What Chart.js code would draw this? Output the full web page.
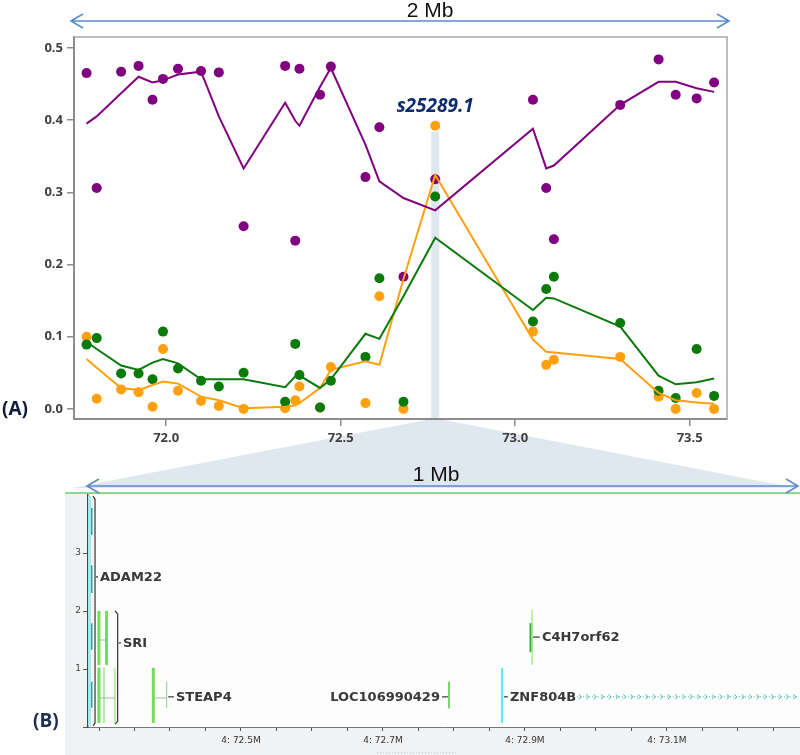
<!DOCTYPE html>
<html>
<head>
<meta charset="utf-8">
<script src="https://cdn.jsdelivr.net/npm/chart.js@4.4.1/dist/chart.umd.min.js"></script>
<style>
body{margin:0;background:#fff}
#wrap{position:relative;width:800px;height:755px}
#chartA{position:absolute;left:0;top:0}
#chartB{position:absolute;left:0;top:460px}
</style>
</head>
<body>
<div id="wrap">
<canvas id="chartA" width="800" height="493"></canvas>
<canvas id="chartB" width="800" height="295"></canvas>
</div>
<script>
// panel A : snp positions (Mb) and the three series
const snpPos=[71.772,71.801,71.871,71.921,71.961,71.991,72.034,72.100,72.151,72.222,72.341,72.370,72.382,72.441,72.472,72.571,72.611,72.680,72.771,73.051,73.089,73.111,73.301,73.411,73.460,73.520,73.570]

const purpleDots=[0.465,0.306,0.467,0.475,0.428,0.457,0.471,0.468,0.466,0.253,0.475,0.233,0.471,0.435,0.474,0.321,0.390,0.183,0.318,0.428,0.306,0.235,0.421,0.484,0.435,0.430,0.452]
const greenDots=[0.089,0.098,0.049,0.049,0.041,0.107,0.056,0.039,0.031,0.050,0.010,0.090,0.047,0.002,0.039,0.072,0.181,0.010,0.294,0.121,0.166,0.183,0.119,0.025,0.015,0.083,0.018]
const orangeDots=[0.100,0.014,0.027,0.023,0.003,0.083,0.025,0.011,0.004,0.000,0.001,0.012,0.031,0.002,0.058,0.008,0.156,0.000,0.392,0.107,0.061,0.068,0.072,0.017,0.000,0.022,0.000]

const purpleLine=[0.395,0.405,0.437,0.460,0.452,0.455,0.463,0.467,0.405,0.333,0.424,0.399,0.392,0.446,0.472,0.366,0.315,0.292,0.275,0.388,0.333,0.337,0.421,0.453,0.453,0.444,0.439]
const greenLine=[0.093,0.083,0.060,0.054,0.064,0.069,0.063,0.041,0.041,0.041,0.030,0.045,0.046,0.029,0.041,0.104,0.097,0.156,0.237,0.137,0.154,0.153,0.114,0.046,0.034,0.037,0.042]
const orangeLine=[0.069,0.057,0.029,0.026,0.033,0.038,0.035,0.017,0.012,0.001,0.003,0.005,0.008,0.029,0.054,0.066,0.061,0.180,0.324,0.096,0.079,0.078,0.069,0.022,0.012,0.009,0.007]

const xTicksA=[72.0,72.5,73.0,73.5]
const yTicksA=[0.0,0.1,0.2,0.3,0.4,0.5]

const hitName='s25289.1'
const hitPos=72.771
const hitTop=0.384
const hitLabelY=0.422

// panel B : gene features [x Mb, row from, row to]
const adamBack=[[72.2866,0.02,3.98]]
const adamExons=[[72.2886,0.33,0.78],[72.2886,1.33,1.79],[72.2886,2.31,2.79],[72.2886,3.31,3.78]]
const adamDots=[[72.2913,0.03,3.97]]
const sriBars=[[72.2999,1.07,2.0],[72.3106,1.07,2.0],[72.2999,0.07,1.02]]
const sriThin=[[72.3070,0.07,1.02],[72.3222,0.07,1.02]]
const steapBars=[[72.3765,0.07,1.02]]
const steapThin=[[72.3953,0.33,0.78]]
const locBars=[[72.7930,0.32,0.78]]
const znfBars=[[72.8676,0.07,1.02]]
const c4Thin=[[72.9099,1.07,2.02]]
const c4Bars=[[72.9085,1.29,1.79]]
// introns [x from, x to, row]
const sriIntrons=[[72.2999,72.3106,1.5],[72.2999,72.3222,0.5]]
const steapIntrons=[[72.3765,72.3953,0.5]]
const znfIntrons=[[72.9732,73.2845,0.52]]
// brackets [x hook, x line, row from, row to]
const adamBracket=[72.2915,72.2944,0.02,3.98]
const sriBracket=[72.3225,72.3263,0.05,2.0]

const geneNames=['ADAM22','SRI','STEAP4','LOC106990429','ZNF804B','C4H7orf62']
const geneLabelX=[72.3014,72.3338,72.4084,72.7803,72.8789,72.9239]
const geneLabelRow=[2.59,1.45,0.52,0.52,0.52,1.55]
const geneLeaderX=[72.2944,72.3263,72.3960,72.7930,72.8690,72.9100]
const geneAlign=['left','left','left','right','left','left']

const xTicksB=[72.3,72.35,72.4,72.45,72.5,72.55,72.6,72.65,72.7,72.75,72.8,72.85,72.9,72.95,73.0,73.05,73.1,73.15,73.2,73.25]
const xLabelsB=[72.5,72.7,72.9,73.1]
const yTicksB=[0,1,2,3]


function pts(vals){
  return snpPos.map((x,i)=>({x:x,y:vals[i]}))
}

function vsegs(list){
  const out=[]
  list.forEach(f=>{
    out.push({x:f[0],y:f[1]},{x:f[0],y:f[2]},{x:f[0],y:null})
  })
  return out
}

function hsegs(list){
  const out=[]
  list.forEach(f=>{
    out.push({x:f[0],y:f[2]},{x:f[1],y:f[2]},{x:f[1],y:null})
  })
  return out
}

function bracket(b){
  return [{x:b[0],y:b[3]},{x:b[1],y:b[3]-0.05},{x:b[1],y:b[2]+0.05},{x:b[0],y:b[2]}]
}

function drawArrow(ctx,x1,x2,yy){
  ctx.beginPath()
  ctx.moveTo(x1,yy);ctx.lineTo(x2,yy)
  ctx.moveTo(x1+12,yy-7);ctx.lineTo(x1,yy);ctx.lineTo(x1+12,yy+7)
  ctx.moveTo(x2-12,yy-7);ctx.lineTo(x2,yy);ctx.lineTo(x2-12,yy+7)
  ctx.stroke()
}


// ---------- panel A ----------

const panelA={
  id:'panelA',
  beforeDraw(chart){
    const ctx=chart.ctx
    const a=chart.chartArea
    const cx=chart.scales.x.getPixelForValue(hitPos)
    const top=chart.scales.y.getPixelForValue(hitTop)
    ctx.save()
    ctx.fillStyle='#dfe7f1'
    // zoom wedge down to panel B
    ctx.beginPath()
    ctx.moveTo(cx-4,a.bottom)
    ctx.lineTo(cx+4,a.bottom)
    ctx.lineTo(796,488)
    ctx.lineTo(72,488)
    ctx.closePath()
    ctx.fill()
    ctx.fillRect(cx-4,top,8,a.bottom-top)
    ctx.restore()
  },
  afterDraw(chart){
    const ctx=chart.ctx
    const a=chart.chartArea
    const sx=chart.scales.x
    const sy=chart.scales.y
    ctx.save()
    ctx.strokeStyle='#a8a8a8'
    ctx.lineWidth=1.5
    ctx.beginPath()
    ctx.moveTo(a.left,a.top);ctx.lineTo(a.right,a.top);ctx.lineTo(a.right,a.bottom)
    ctx.stroke()

    ctx.strokeStyle='#5b8bd0'
    ctx.lineWidth=1.6
    drawArrow(ctx,a.left-3,a.right+2,21)
    ctx.fillStyle='#111'
    ctx.font='21px "Liberation Sans"'
    ctx.textAlign='center'
    ctx.fillText('2 Mb',430,17)

    ctx.fillStyle='#0d2b6e'
    ctx.font='italic bold 19px "Open Sans"'
    ctx.fillText(hitName,sx.getPixelForValue(hitPos),sy.getPixelForValue(hitLabelY)+8)

    ctx.fillStyle='#0d1b3a'
    ctx.font='bold 19px "Open Sans"'
    ctx.textAlign='left'
    ctx.fillText('(A)',2,415)
    ctx.restore()
  }
}

new Chart(document.getElementById('chartA'),{
  type:'scatter',
  data:{
    datasets:[
      {label:'purple line',data:pts(purpleLine),showLine:true,borderColor:'#800080',borderWidth:2,pointRadius:0,order:1},
      {label:'green line',data:pts(greenLine),showLine:true,borderColor:'#0a7a0a',borderWidth:2,pointRadius:0,order:1},
      {label:'orange line',data:pts(orangeLine),showLine:true,borderColor:'#ffa010',borderWidth:2,pointRadius:0,order:1},
      {label:'purple',data:pts(purpleDots),backgroundColor:'#800080',borderWidth:0,pointRadius:5,order:2},
      {label:'green',data:pts(greenDots),backgroundColor:'#0a7a0a',borderWidth:0,pointRadius:5,order:2},
      {label:'orange',data:pts(orangeDots),backgroundColor:'#ffa010',borderWidth:0,pointRadius:5,order:2}
    ]
  },
  options:{
    responsive:false,
    animation:false,
    devicePixelRatio:1,
    layout:{padding:{top:37,right:73,left:0,bottom:44}},
    plugins:{legend:{display:false},tooltip:{enabled:false}},
    scales:{
      x:{
        type:'linear',min:71.736,max:73.607,
        afterBuildTicks:(s)=>{s.ticks=xTicksA.map(v=>({value:v}))},
        afterFit:(s)=>{s.height=30},
        ticks:{callback:(v)=>Number(v).toFixed(1),color:'#404040',font:{family:'Open Sans',size:13,weight:'bold'},padding:4,maxRotation:0,autoSkip:false},
        grid:{drawOnChartArea:false,tickLength:7,color:'#8c8c8c',lineWidth:1.5},
        border:{color:'#8c8c8c',width:2}
      },
      y:{
        type:'linear',min:-0.014,max:0.515,
        afterBuildTicks:(s)=>{s.ticks=yTicksA.map(v=>({value:v}))},
        afterFit:(s)=>{s.width=74},
        ticks:{callback:(v)=>Number(v).toFixed(1),color:'#404040',font:{family:'Open Sans',size:13,weight:'bold'},padding:4},
        grid:{drawOnChartArea:false,tickLength:7,color:'#8c8c8c',lineWidth:1.5},
        border:{color:'#8c8c8c',width:2}
      }
    }
  },
  plugins:[panelA]
})


// ---------- panel B ----------

const panelB={
  id:'panelB',
  beforeDraw(chart){
    const ctx=chart.ctx
    const a=chart.chartArea
    ctx.save()
    ctx.fillStyle='#f1f2f4'
    ctx.fillRect(65,33,chart.width-65,chart.height-33)
    ctx.fillStyle='#fdfdfd'
    ctx.fillRect(a.left,a.top,a.right-a.left,a.bottom-a.top)
    ctx.strokeStyle='#8fd68f'
    ctx.lineWidth=2
    ctx.beginPath();ctx.moveTo(65,33);ctx.lineTo(chart.width,33);ctx.stroke()
    ctx.restore()
  },
  afterDraw(chart){
    const ctx=chart.ctx
    const a=chart.chartArea
    const sx=chart.scales.x
    const sy=chart.scales.y
    ctx.save()
    ctx.strokeStyle='#5b8bd0'
    ctx.lineWidth=1.6
    drawArrow(ctx,a.left-1,chart.width-2,26)
    ctx.fillStyle='#111'
    ctx.font='21px "Liberation Sans"'
    ctx.textAlign='center'
    ctx.fillText('1 Mb',436,21)

    // strand chevrons on ZNF804B
    ctx.strokeStyle='#3cb6b6'
    ctx.lineWidth=1
    znfIntrons.forEach(f=>{
      const y=sy.getPixelForValue(f[2])
      for(let px=sx.getPixelForValue(f[0])+4;px<sx.getPixelForValue(f[1]);px+=7.4){
        ctx.beginPath();ctx.moveTo(px-2,y-2.5);ctx.lineTo(px+0.5,y);ctx.lineTo(px-2,y+2.5);ctx.stroke()
      }
    })

    // gene labels with leaders
    ctx.font='bold 13px "DejaVu Sans"'
    ctx.textBaseline='middle'
    ctx.fillStyle='#383838'
    ctx.strokeStyle='#383838'
    ctx.lineWidth=1.2
    geneNames.forEach((name,i)=>{
      const tx=sx.getPixelForValue(geneLabelX[i])
      const lx=sx.getPixelForValue(geneLeaderX[i])
      const ty=sy.getPixelForValue(geneLabelRow[i])
      ctx.textAlign=geneAlign[i]
      ctx.fillText(name,tx,ty+1)
      ctx.beginPath()
      if(geneAlign[i]==='left'){ctx.moveTo(lx+1,ty);ctx.lineTo(tx-2,ty)}
      else{ctx.moveTo(tx+2,ty);ctx.lineTo(lx-1,ty)}
      ctx.stroke()
    })

    // scroll hint under the axis
    ctx.strokeStyle='#b8b8b8'
    ctx.lineWidth=1
    ctx.setLineDash([1,2])
    ctx.beginPath();ctx.moveTo(377,293);ctx.lineTo(457,293);ctx.stroke()
    ctx.setLineDash([])

    ctx.fillStyle='#1f2d50'
    ctx.font='bold 19px "Open Sans"'
    ctx.textAlign='left'
    ctx.textBaseline='alphabetic'
    ctx.fillText('(B)',33,267)
    ctx.restore()
  }
}

function feat(label,data,color,width,dash){
  return {label:label,data:data,showLine:true,borderColor:color,borderWidth:width,borderDash:dash||[],pointRadius:0,pointHoverRadius:0,spanGaps:false,borderCapStyle:'butt'}
}

new Chart(document.getElementById('chartB'),{
  type:'scatter',
  data:{
    datasets:[
      feat('ADAM22 span',vsegs(adamBack),'#a5e9ef',3),
      feat('ADAM22 exons',vsegs(adamExons),'#1aa3a8',3),
      feat('ADAM22 dots',vsegs(adamDots),'#f3c79b',1,[1,2]),
      feat('ADAM22 bracket',bracket(adamBracket),'#333',1.2),
      feat('SRI introns',hsegs(sriIntrons),'#9bbf9b',1),
      feat('SRI',vsegs(sriBars),'#74dd57',3),
      feat('SRI thin',vsegs(sriThin),'#b3eca6',2),
      feat('SRI bracket',bracket(sriBracket),'#333',1.2),
      feat('STEAP4 intron',hsegs(steapIntrons),'#9bbf9b',1),
      feat('STEAP4',vsegs(steapBars),'#74dd57',3),
      feat('STEAP4 thin',vsegs(steapThin),'#8fcf8f',1),
      feat('LOC106990429',vsegs(locBars),'#7bd36b',2),
      feat('ZNF804B',vsegs(znfBars),'#5ee8f2',2),
      feat('ZNF804B intron',hsegs(znfIntrons),'#41b8b8',1,[1,2]),
      feat('C4H7orf62 thin',vsegs(c4Thin),'#a6ee8e',1.5),
      feat('C4H7orf62',vsegs(c4Bars),'#3bb03b',3)
    ]
  },
  options:{
    responsive:false,
    animation:false,
    devicePixelRatio:1,
    layout:{padding:{top:35,right:0,left:0,bottom:0}},
    plugins:{legend:{display:false},tooltip:{enabled:false}},
    scales:{
      x:{
        type:'linear',min:72.2845,max:73.2875,
        afterBuildTicks:(s)=>{s.ticks=xTicksB.map(v=>({value:v}))},
        afterFit:(s)=>{s.height=28},
        ticks:{
          callback:(v)=>xLabelsB.some(l=>Math.abs(l-v)<1e-6)?'4: '+Number(v).toFixed(1)+'M':'',
          color:'#333',font:{family:'DejaVu Sans',size:9},padding:4,maxRotation:0,autoSkip:false
        },
        grid:{drawOnChartArea:false,tickLength:4,color:'#555'},
        border:{color:'#777',width:1}
      },
      y:{
        type:'linear',min:0,max:4,
        afterBuildTicks:(s)=>{s.ticks=yTicksB.map(v=>({value:v}))},
        afterFit:(s)=>{s.width=88},
        ticks:{callback:(v)=>v===0?'':String(v),color:'#444',font:{family:'DejaVu Sans',size:9},padding:2},
        grid:{drawOnChartArea:false,tickLength:5,color:'#555'},
        border:{color:'#444',width:1.5}
      }
    }
  },
  plugins:[panelB]
})
</script>
</body>
</html>
